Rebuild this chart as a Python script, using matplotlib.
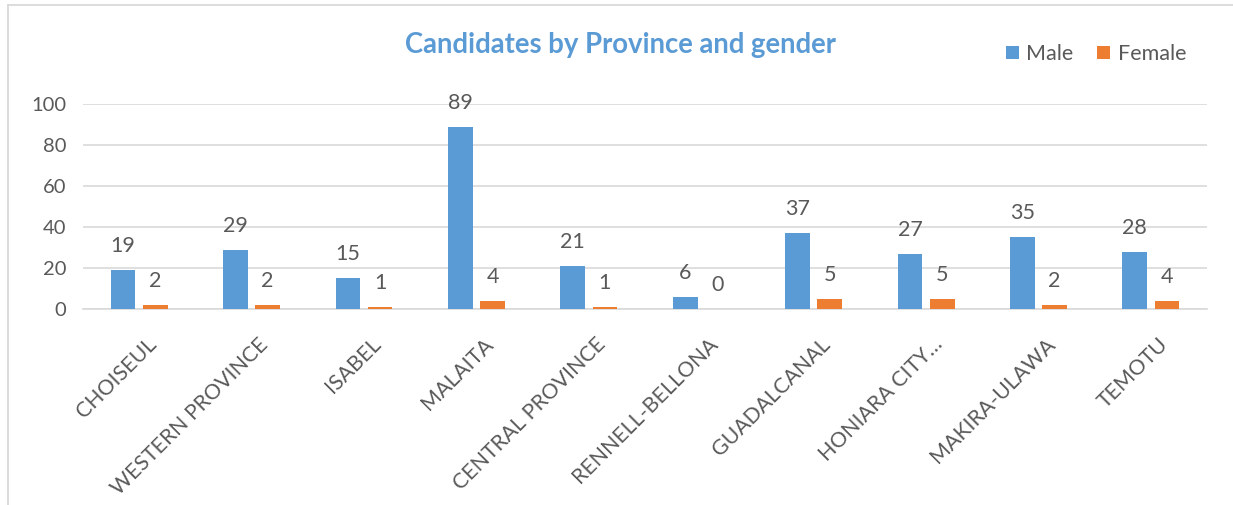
import numpy as np
import matplotlib
matplotlib.use("Agg")
import matplotlib.pyplot as plt
from matplotlib.lines import Line2D

provinces = ["CHOISEUL", "WESTERN PROVINCE", "ISABEL", "MALAITA", "CENTRAL PROVINCE",
             "RENNELL-BELLONA", "GUADALCANAL", "HONIARA CITY…", "MAKIRA-ULAWA", "TEMOTU"]
male = [19, 29, 15, 89, 21, 6, 37, 27, 35, 28]
female = [2, 2, 1, 4, 1, 0, 5, 5, 2, 4]
yticks = [0, 20, 40, 60, 80, 100]

blue = "#5B9BD5"
orange = "#ED7D31"
text_col = "#595959"
grid_col = "#D9D9D9"

plt.rcParams["font.family"] = ["Lato", "DejaVu Sans"]

fig = plt.figure(figsize=(12.33, 5.05), dpi=100)
ax = fig.add_axes([0.0673, 0.388, 0.9117, 0.406])

x = np.arange(len(provinces))
w = 0.22
b1 = ax.bar(x - 0.143, male, w, color=blue, zorder=3)
b2 = ax.bar(x + 0.143, female, w, color=orange, zorder=3)

for bars, vals in ((b1, male), (b2, female)):
    for rect, v in zip(bars, vals):
        ax.annotate(str(v), (rect.get_x() + rect.get_width() / 2, v),
                    xytext=(0, 14), textcoords="offset pixels",
                    ha="center", va="bottom", fontsize=15.5, color=text_col)

ax.set_xlim(-0.5, len(provinces) - 0.5)
ax.set_ylim(0, 100)
ax.set_yticks(yticks)
ax.set_yticklabels([str(t) for t in yticks], fontsize=14.5, color=text_col)
ax.yaxis.grid(True, color=grid_col, linewidth=1.2, zorder=0)
ax.tick_params(axis="both", length=0)
ax.tick_params(axis="y", pad=12)
ax.set_xticks(x + 0.06)
ax.set_xticklabels(provinces, rotation=45, ha="right", rotation_mode="anchor",
                   fontsize=15.3, color=text_col)
ax.tick_params(axis="x", pad=18)
for s in ["top", "right", "left"]:
    ax.spines[s].set_visible(False)
ax.spines["bottom"].set_color(grid_col)
ax.spines["bottom"].set_linewidth(1.2)

fig.text(0.503, 0.91, "Candidates by Province and gender", ha="center", va="center",
         fontsize=19.8, fontweight="bold", color=blue)

fig.legend([b1, b2], ["Male", "Female"], loc="center left",
           bbox_to_anchor=(0.8, 0.893), ncol=2, frameon=False,
           fontsize=15.5, handlelength=0.6, handleheight=0.6,
           handletextpad=0.35, columnspacing=1.1, labelcolor=text_col)

# chart frame: only top and left edges show
fig.lines.append(Line2D([7.5 / 1233, 7.5 / 1233], [0, 1 - 4.5 / 505],
                        transform=fig.transFigure, color=grid_col, linewidth=1.3))
fig.lines.append(Line2D([7.5 / 1233, 1], [1 - 4.5 / 505, 1 - 4.5 / 505],
                        transform=fig.transFigure, color=grid_col, linewidth=1.3))

fig.savefig("out.png", dpi=100)
